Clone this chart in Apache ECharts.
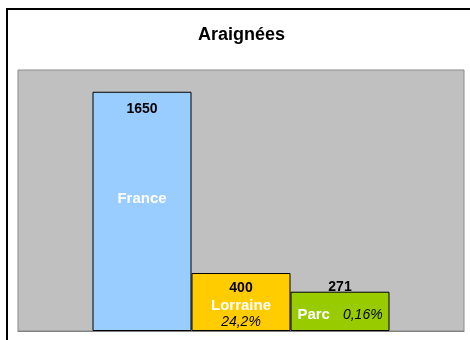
<!DOCTYPE html>
<html>
<head>
<meta charset="utf-8">
<script src="https://cdn.jsdelivr.net/npm/echarts@6/dist/echarts.min.js"></script>
<style>
  html, body { margin: 0; padding: 0; background: #ffffff; }
  #chart { width: 470px; height: 340px; }
</style>
</head>
<body>
<div id="chart"></div>
<script>
// Spider species counts: France, Lorraine, regional park
const names = ['France', 'Lorraine', 'Parc'];
const counts = [1650, 400, 271];
const shares = ['', '24,2%', '0,16%'];
const colors = ['#99ccff', '#ffcc00', '#99cc00'];

const FONT = '"Liberation Sans", Arial, sans-serif';

const rich = {
  v: { fontFamily: FONT, fontSize: 14, fontWeight: 'bold', color: '#000000' },
  n: { fontFamily: FONT, fontSize: 15, fontWeight: 'bold', color: '#ffffff' },
  p: { fontFamily: FONT, fontSize: 14, fontStyle: 'italic', color: '#000000' }
};

// Label layout for each bar
function labelFor(i) {
  if (i === 0) {
    return {
      show: true, position: 'insideTop', distance: 10,
      formatter: () => '{v|' + counts[i] + '}\n{n|' + names[i] + '}',
      rich: {
        v: Object.assign({}, rich.v, { lineHeight: 14 }),
        n: Object.assign({}, rich.n, { lineHeight: 166 })
      }
    };
  }
  if (i === 1) {
    return {
      show: true, position: 'insideTop', distance: 7,
      formatter: () => '{v|' + counts[i] + '}\n{n|' + names[i] + '}\n{p|' + shares[i] + '}',
      rich: {
        v: Object.assign({}, rich.v, { lineHeight: 17 }),
        n: Object.assign({}, rich.n, { lineHeight: 17 }),
        p: Object.assign({}, rich.p, { lineHeight: 17 })
      }
    };
  }
  return {
    show: true, position: 'insideTop', distance: 0, offset: [0, -12],
    formatter: () => '{v|' + counts[i] + '}\n{n|' + names[i] + '}{s|}{p|' + shares[i] + '}',
    rich: {
      v: Object.assign({}, rich.v, { lineHeight: 14 }),
      n: Object.assign({}, rich.n, { lineHeight: 42 }),
      s: { width: 13, lineHeight: 42 },
      p: Object.assign({}, rich.p, { lineHeight: 42 })
    }
  };
}

const chart = echarts.init(document.getElementById('chart'), null, { renderer: 'canvas' });

chart.setOption({
  animation: false,
  backgroundColor: '#ffffff',
  title: {
    text: 'Araignées',
    left: 193,
    top: 21,
    textStyle: { fontFamily: FONT, fontSize: 18, fontWeight: 'bold', color: '#000000' }
  },
  graphic: [{
    type: 'rect',
    z: -1,
    silent: true,
    shape: { x: 7, y: 9, width: 520, height: 400 },
    style: { fill: null, stroke: '#000000', lineWidth: 2 }
  }],
  grid: {
    left: 18, right: 6, top: 70, bottom: 9,
    show: true,
    backgroundColor: '#c0c0c0',
    borderColor: '#8a8a8a',
    borderWidth: 1
  },
  xAxis: {
    type: 'category',
    data: [''],
    axisLine: { show: true, lineStyle: { color: '#808080', width: 1 } },
    axisTick: { show: false },
    axisLabel: { show: false }
  },
  yAxis: {
    type: 'value',
    min: 0,
    max: 1800,
    show: false,
    splitLine: { show: false }
  },
  series: names.map((name, i) => ({
    name: name,
    type: 'bar',
    data: [counts[i]],
    barWidth: 99,
    barGap: '0%',
    itemStyle: { color: colors[i], borderColor: '#000000', borderWidth: 1 },
    label: labelFor(i)
  }))
});
</script>
</body>
</html>
